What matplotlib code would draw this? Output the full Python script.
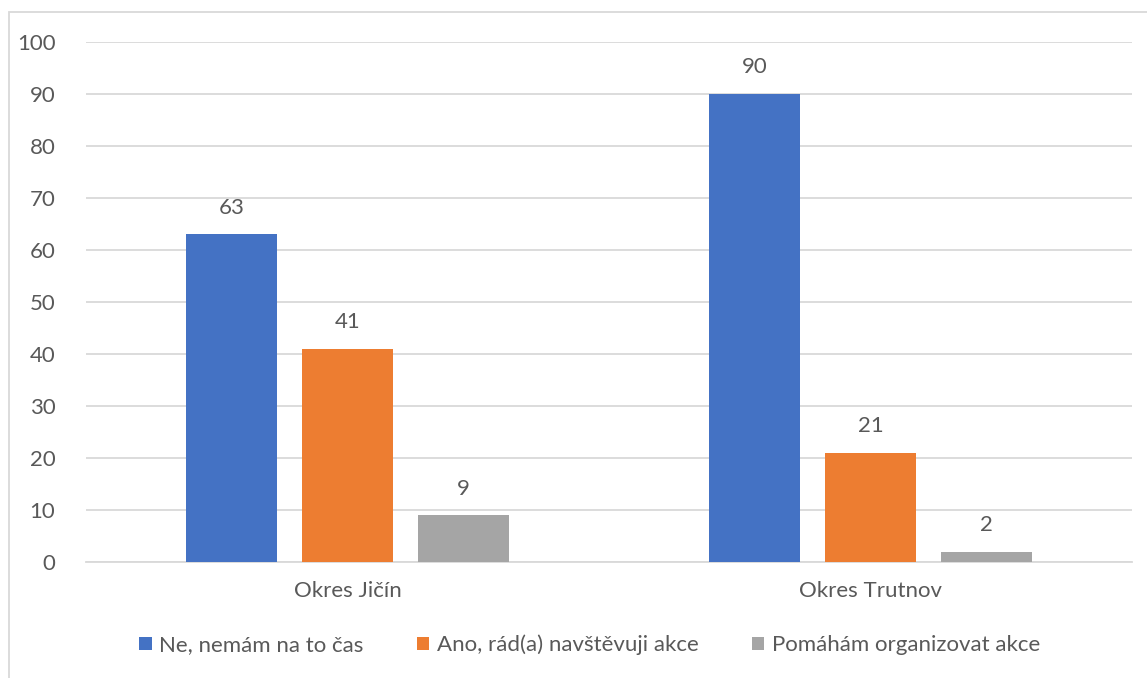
import numpy as np
import matplotlib.pyplot as plt
from matplotlib.patches import Rectangle

plt.rcParams['font.family'] = ['Lato', 'DejaVu Sans']

categories = ["Okres Jičín", "Okres Trutnov"]
series = ["Ne, nemám na to čas", "Ano, rád(a) navštěvuji akce", "Pomáhám organizovat akce"]
values = [[63, 90], [41, 21], [9, 2]]
colors = ["#4472C4", "#ED7D31", "#A5A5A5"]
text_color = "#595959"

fig = plt.figure(figsize=(11.47, 6.78), dpi=100)
ax = fig.add_axes([86 / 1147, 1 - 562 / 678, (1132 - 86) / 1147, (562 - 42) / 678])

x = np.arange(len(categories))
width = 0.174
step = 0.222
for i, (name, vals) in enumerate(zip(series, values)):
    bars = ax.bar(x + (i - 1) * step, vals, width, color=colors[i], label=name, zorder=3)
    for b, v in zip(bars, vals):
        ax.text(b.get_x() + b.get_width() / 2, v + 3.2, str(v), ha="center", va="bottom",
                fontsize=16, color=text_color)

ax.set_xlim(-0.5, 1.5)
ax.set_ylim(0, 100)
ax.set_yticks(range(0, 101, 10))
ax.set_xticks(x)
ax.set_xticklabels(categories)
ax.tick_params(axis="both", length=0, labelsize=16, labelcolor=text_color)
ax.tick_params(axis="y", pad=22)
ax.tick_params(axis="x", pad=14)
ax.grid(axis="y", color="#D9D9D9", linewidth=1.3, zorder=0)
for s in ["top", "right", "left"]:
    ax.spines[s].set_visible(False)
ax.spines["bottom"].set_color("#D9D9D9")
ax.spines["bottom"].set_linewidth(1.3)

fig.legend(loc="center", bbox_to_anchor=(590 / 1147, 1 - 645 / 678), ncol=3, frameon=False,
           fontsize=16, labelcolor=text_color, handlelength=0.55, handleheight=0.55,
           handletextpad=0.35, columnspacing=2.4)

# chart border
fig.patches.append(Rectangle((9 / 1147, -0.05), 1.2, 1 - 12 / 678 + 0.05, transform=fig.transFigure,
                             fill=False, edgecolor="#D9D9D9", linewidth=1.3))

fig.savefig("out.png", dpi=100)
